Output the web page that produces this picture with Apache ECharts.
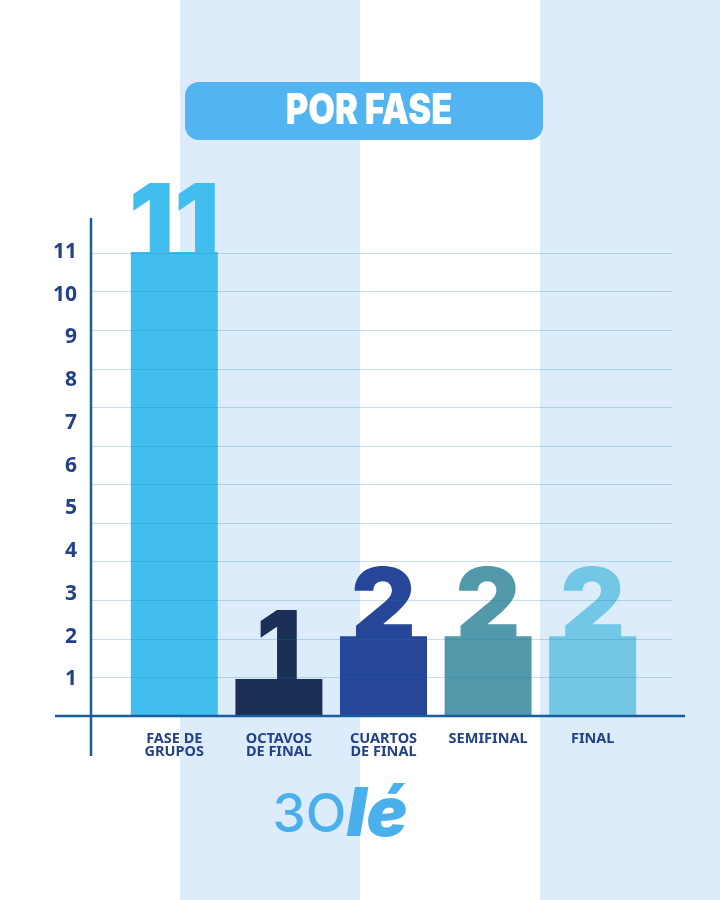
<!DOCTYPE html>
<html><head><meta charset="utf-8">
<script src="https://cdn.jsdelivr.net/npm/echarts@6/dist/echarts.min.js"></script>
<style>html,body{margin:0;padding:0;background:#fff}#c{width:720px;height:900px}</style>
</head><body><div id="c"></div>
<script>
const categories = ['FASE DE\nGRUPOS', 'OCTAVOS\nDE FINAL', 'CUARTOS\nDE FINAL', 'SEMIFINAL', 'FINAL'];
const values = [11, 1, 2, 2, 2];
const barColors = ['#41bdf0', '#1b2f57', '#264699', '#529aab', '#72c7e6'];
const tickMin = 0, tickMax = 11, tickStep = 1;   // labelled ticks 1..11
const gridLineMax = 12;                          // faint rules drawn in the picture
const titleText = 'POR FASE';
const logoLeft = '3O', logoRight = 'lé';

const chart = echarts.init(document.getElementById('c'));
chart.setOption({
  animation: false,
  backgroundColor: '#ffffff',
  grid: [
    {left: 91, right: 48, top: 253, bottom: 184},   // rules
    {left: 122, right: 75, top: 252, bottom: 184},  // bars
    {left: 91, right: 48, top: 252, bottom: 178}    // tick labels
  ],
  xAxis: [
    {gridIndex: 0, type: 'category', data: categories, show: false},
    {gridIndex: 1, type: 'category', data: categories,
     axisLine: {show: false}, axisTick: {show: false},
     axisLabel: {color: '#22418a', fontFamily: 'Noto Sans', fontWeight: 'bold', fontSize: 14.5,
                 lineHeight: 13.5, margin: 16, interval: 0}},
    {gridIndex: 2, type: 'category', data: categories, show: false}
  ],
  yAxis: [
    {gridIndex: 0, type: 'value', min: 0, max: gridLineMax, interval: 1, z: 4,
     axisLine: {show: false}, axisTick: {show: false}, axisLabel: {show: false},
     splitLine: {lineStyle: {color: 'rgba(40,120,160,0.25)', width: 1.2}}},
    {gridIndex: 1, type: 'value', min: 0.134, max: tickMax, show: false, splitLine: {show: false}},
    {gridIndex: 2, type: 'value', min: tickMin, max: tickMax, interval: tickStep,
     axisLine: {show: false}, axisTick: {show: false}, splitLine: {show: false},
     axisLabel: {color: '#22418a', fontFamily: 'Noto Sans', fontWeight: 'bold', fontSize: 21, margin: 14,
                 formatter: v => v === 0 ? '' : String(v)}}
  ],
  series: [{
    type: 'bar', xAxisIndex: 1, yAxisIndex: 1, barWidth: 87, z: 2,
    data: values.map((v, i) => ({value: v, itemStyle: {color: barColors[i]},
      label: {color: barColors[i]}})),
    label: {show: true, position: 'top', distance: -24, fontFamily: 'Inter', fontWeight: 900,
            fontSize: 100, lineHeight: 100}
  }],
  graphic: [
    {type: 'rect', z: -10, shape: {x: 180, y: 0, width: 180, height: 900}, style: {fill: '#ddecfb'}},
    {type: 'rect', z: -10, shape: {x: 540, y: 0, width: 180, height: 900}, style: {fill: '#ddecfb'}},
    {type: 'line', z: 5, shape: {x1: 91, y1: 218, x2: 91, y2: 756}, style: {stroke: '#1a5d9c', lineWidth: 2.5}},
    {type: 'line', z: 5, shape: {x1: 55, y1: 716, x2: 685, y2: 716}, style: {stroke: '#1a5d9c', lineWidth: 2.5}},
    {type: 'rect', z: 10, shape: {x: 185, y: 82, width: 358, height: 58, r: 14}, style: {fill: '#52b4f0'}},
    {type: 'text', z: 11, x: 369, y: 111, scaleX: 0.82, style: {text: titleText, fill: '#ffffff',
      font: '900 42px Inter, "Liberation Sans", sans-serif', align: 'center', verticalAlign: 'middle'}},
    {type: 'text', z: 11, x: 340, y: 816, style: {
      text: '{a|' + logoLeft + '}{b|' + logoRight + '}',
      align: 'center', verticalAlign: 'middle',
      rich: {
        a: {fill: '#4ab0ec', fontFamily: 'Inter', fontWeight: 500, fontSize: 53},
        b: {fill: '#4ab0ec', fontFamily: 'Inter', fontWeight: 900, fontStyle: 'italic', fontSize: 68}
      }}}
  ]
});
</script></body></html>
